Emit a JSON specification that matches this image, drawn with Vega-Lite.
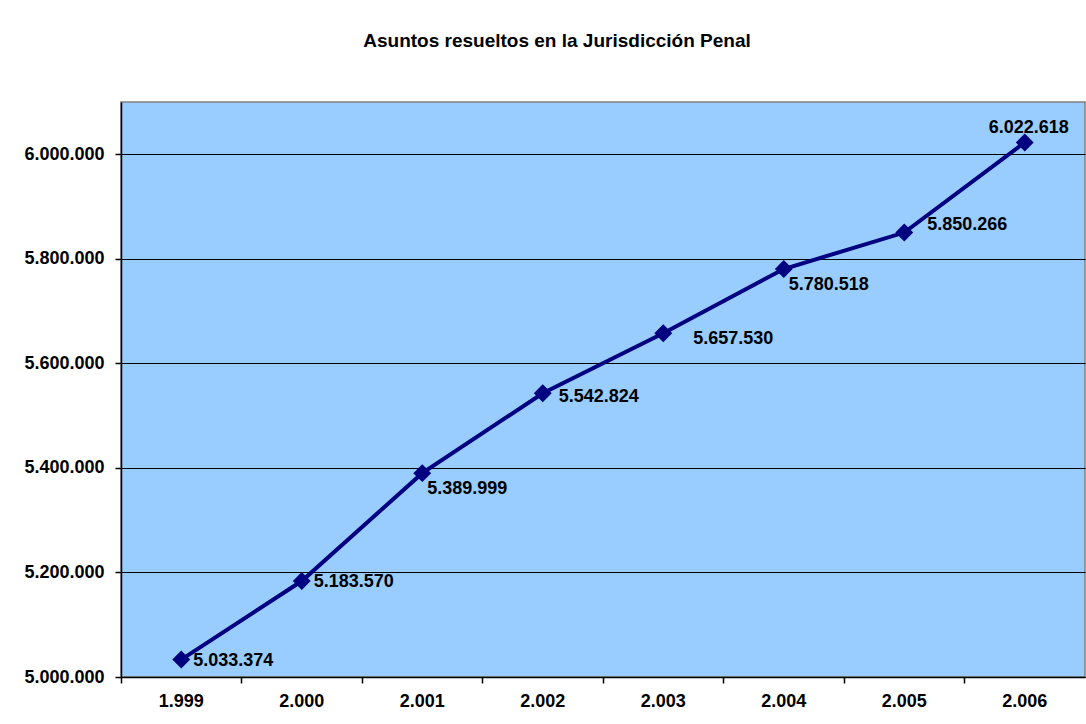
{
  "$schema": "https://vega.github.io/schema/vega-lite/v6.json",
  "autosize": {"type": "none"},
  "width": 964,
  "height": 575,
  "padding": {"left": 121, "top": 102, "right": 1, "bottom": 47},
  "background": "white",
  "title": {
    "text": "Asuntos resueltos en la Jurisdicción Penal",
    "font": "Liberation Sans",
    "fontSize": 19,
    "fontWeight": "bold",
    "color": "black",
    "anchor": "middle",
    "dx": -46,
    "offset": 51
  },
  "config": {
    "locale": {"number": {"decimal": ",", "thousands": ".", "grouping": [3], "currency": ["", " €"]}},
    "view": {"stroke": "#808080", "strokeWidth": 1.5, "fill": "#99CCFF"},
    "axis": {
      "labelFont": "Liberation Sans",
      "labelFontSize": 18,
      "labelFontWeight": "bold",
      "labelColor": "black",
      "domainColor": "black",
      "domainWidth": 1.5,
      "tickColor": "black",
      "tickWidth": 1.5,
      "title": null
    }
  },
  "data": {
    "values": [
      {"anio": "1.999", "asuntos": 5033374},
      {"anio": "2.000", "asuntos": 5183570},
      {"anio": "2.001", "asuntos": 5389999},
      {"anio": "2.002", "asuntos": 5542824},
      {"anio": "2.003", "asuntos": 5657530},
      {"anio": "2.004", "asuntos": 5780518},
      {"anio": "2.005", "asuntos": 5850266},
      {"anio": "2.006", "asuntos": 6022618}
    ]
  },
  "encoding": {
    "x": {
      "field": "anio",
      "type": "ordinal",
      "sort": null,
      "scale": {"type": "band", "paddingInner": 0, "paddingOuter": 0},
      "axis": {"labelAngle": 0, "tickSize": 6, "labelPadding": 9, "bandPosition": 0, "grid": false}
    },
    "y": {
      "field": "asuntos",
      "type": "quantitative",
      "scale": {"domain": [5000000, 6100000], "nice": false, "zero": false},
      "axis": {
        "values": [5000000, 5200000, 5400000, 5600000, 5800000, 6000000],
        "format": ",d",
        "tickSize": 6,
        "labelPadding": 11,
        "grid": true,
        "gridColor": "black",
        "gridWidth": 1.2,
        "gridOpacity": 1
      }
    }
  },
  "layer": [
    {"mark": {"type": "line", "color": "#000080", "strokeWidth": 4}},
    {"mark": {"type": "point", "shape": "diamond", "filled": true, "color": "#000080", "opacity": 1, "size": 320}},
    {
      "transform": [{"filter": {"field": "anio", "oneOf": ["1.999", "2.000"]}}],
      "mark": {"type": "text", "align": "left", "baseline": "middle", "dx": 12, "dy": 1, "font": "Liberation Sans", "fontSize": 18, "fontWeight": "bold", "color": "black"},
      "encoding": {"text": {"field": "asuntos", "type": "quantitative", "format": ",d"}}
    },
    {
      "transform": [{"filter": {"field": "anio", "oneOf": ["2.002"]}}],
      "mark": {"type": "text", "align": "left", "baseline": "middle", "dx": 16, "dy": 4, "font": "Liberation Sans", "fontSize": 18, "fontWeight": "bold", "color": "black"},
      "encoding": {"text": {"field": "asuntos", "type": "quantitative", "format": ",d"}}
    },
    {
      "transform": [{"filter": {"field": "anio", "oneOf": ["2.003"]}}],
      "mark": {"type": "text", "align": "left", "baseline": "middle", "dx": 30, "dy": 6, "font": "Liberation Sans", "fontSize": 18, "fontWeight": "bold", "color": "black"},
      "encoding": {"text": {"field": "asuntos", "type": "quantitative", "format": ",d"}}
    },
    {
      "transform": [{"filter": {"field": "anio", "oneOf": ["2.001", "2.004"]}}],
      "mark": {"type": "text", "align": "left", "baseline": "middle", "dx": 5, "dy": 16, "font": "Liberation Sans", "fontSize": 18, "fontWeight": "bold", "color": "black"},
      "encoding": {"text": {"field": "asuntos", "type": "quantitative", "format": ",d"}}
    },
    {
      "transform": [{"filter": {"field": "anio", "oneOf": ["2.005"]}}],
      "mark": {"type": "text", "align": "left", "baseline": "middle", "dx": 23, "dy": -8, "font": "Liberation Sans", "fontSize": 18, "fontWeight": "bold", "color": "black"},
      "encoding": {"text": {"field": "asuntos", "type": "quantitative", "format": ",d"}}
    },
    {
      "transform": [{"filter": {"field": "anio", "oneOf": ["2.006"]}}],
      "mark": {"type": "text", "align": "center", "baseline": "middle", "dx": 4, "dy": -14, "font": "Liberation Sans", "fontSize": 18, "fontWeight": "bold", "color": "black"},
      "encoding": {"text": {"field": "asuntos", "type": "quantitative", "format": ",d"}}
    }
  ]
}
